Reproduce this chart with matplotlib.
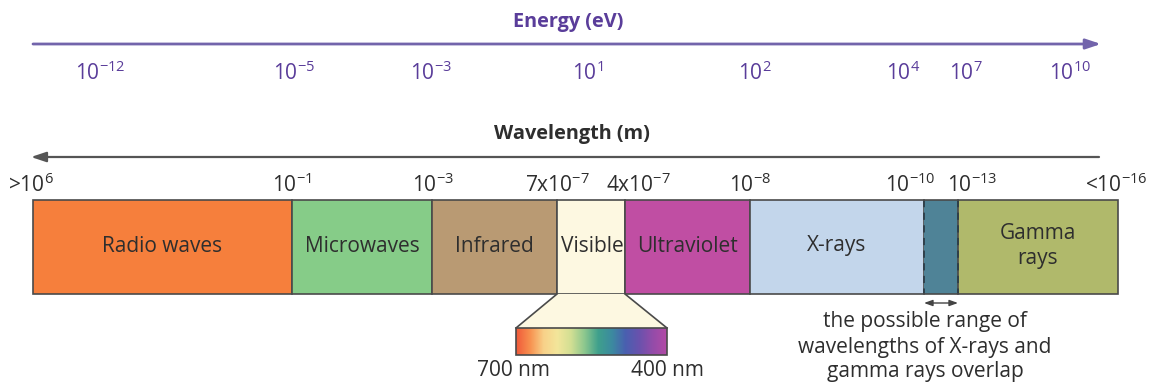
import matplotlib
matplotlib.use("Agg")
import matplotlib.pyplot as plt
import numpy as np
from matplotlib.colors import LinearSegmentedColormap
from matplotlib.patches import Polygon, Rectangle

FONT = "Open Sans"
plt.rcParams['font.family'] = [FONT, 'DejaVu Sans']
plt.rcParams['mathtext.fontset'] = 'custom'
plt.rcParams['mathtext.rm'] = FONT
plt.rcParams['mathtext.it'] = FONT
plt.rcParams['mathtext.default'] = 'regular'

# ---------------- data ----------------
# bands along the schematic wavelength strip (diagram units)
band_names = ["Radio waves", "Microwaves", "Infrared", "Visible", "Ultraviolet",
              "X-rays", "", "Gamma\nrays"]
band_edges = [33, 292, 432, 557, 625, 750, 924, 958, 1118]
band_colors = ["#f67f3c", "#86cc88", "#b99a73", "#fdf8e1", "#c04ea3",
               "#c3d6eb", "#4f8397", "#b0b96b"]

wavelength_labels = [">10$^{6}$", "10$^{-1}$", "10$^{-3}$", "7x10$^{-7}$",
                     "4x10$^{-7}$", "10$^{-8}$", "10$^{-10}$", "10$^{-13}$",
                     "<10$^{-16}$"]
wavelength_label_pos = [31, 292, 433, 557, 638, 750, 910, 972, 1116]

energy_labels = ["10$^{-12}$", "10$^{-5}$", "10$^{-3}$", "10$^{1}$", "10$^{2}$",
                 "10$^{4}$", "10$^{7}$", "10$^{10}$"]
energy_label_pos = [100, 294, 431, 588, 755, 903, 966, 1070]

spectrum_colors = ["#f05a3a", "#f7904f", "#f8d189", "#f3e69b", "#d2df93",
                   "#8cc78e", "#3fa08c", "#3c8aa0", "#4a5fb0", "#6a52ad",
                   "#944ca9", "#b34aa6"]
spectrum_labels = ["700 nm", "400 nm"]

# ---------------- figure ----------------
W, H = 1151, 385
fig = plt.figure(figsize=(W / 100, H / 100), dpi=100)
ax = fig.add_axes([0, 0, 1, 1])
ax.set_xlim(0, W)
ax.set_ylim(H, 0)
ax.axis("off")

purple = "#5a3d9a"
dark = "#2e2e2e"
edge = "#4a4a4a"
fs = 15
fsb = 14.3

# Energy axis
ax.text(568, 22, "Energy (eV)", ha="center", va="center", fontsize=fsb,
        fontweight="bold", color=purple)
ax.annotate("", xy=(1101, 44), xytext=(33, 44),
            arrowprops=dict(arrowstyle="-|>,head_length=0.9,head_width=0.3",
                            lw=2, color="#7264ab", shrinkA=0, shrinkB=0))
for lab, x in zip(energy_labels, energy_label_pos):
    ax.text(x, 73, lab, ha="center", va="center", fontsize=fs, color=purple)

# Wavelength axis
ax.text(572, 134, "Wavelength (m)", ha="center", va="center", fontsize=fsb,
        fontweight="bold", color=dark)
ax.annotate("", xy=(31, 157), xytext=(1099, 157),
            arrowprops=dict(arrowstyle="-|>,head_length=0.9,head_width=0.3",
                            lw=1.6, color="#555555", shrinkA=0, shrinkB=0))
for lab, x in zip(wavelength_labels, wavelength_label_pos):
    ax.text(x, 185, lab, ha="center", va="center", fontsize=fs, color=dark)

# Bands
y0, y1 = 200, 294
lefts = np.array(band_edges[:-1])
widths = np.diff(band_edges)
bars = ax.bar(lefts, y1 - y0, width=widths, bottom=y0, align="edge",
              color=band_colors, edgecolor=edge, linewidth=1.2)
# overlap band: dashed sides
ov = 6
bars[ov].set_linewidth(0)
for xx in (band_edges[ov], band_edges[ov + 1]):
    ax.plot([xx, xx], [y0, y1], color="#2d3d48", lw=1.3, ls=(0, (4, 3)))
ax.plot([band_edges[ov], band_edges[ov + 1]], [y0, y0], color=edge, lw=1.2)
ax.plot([band_edges[ov], band_edges[ov + 1]], [y1, y1], color=edge, lw=1.2)

label_y = 246
for name, l, w in zip(band_names, lefts, widths):
    if not name:
        continue
    ax.text(l + w / 2 + (1 if name == "Visible" else 0), label_y, name,
            ha="center", va="center", fontsize=fs, color=dark,
            linespacing=1.3)

# Visible expansion
vis_l, vis_r = band_edges[3], band_edges[4]
sp_l, sp_r, sp_t, sp_b = 516, 667, 328, 355
trap = Polygon([[vis_l, y1], [vis_r, y1], [sp_r, sp_t], [sp_l, sp_t]],
               closed=True, facecolor="#fdf8e1", edgecolor="none", zorder=1)
ax.add_patch(trap)
ax.plot([vis_l, sp_l], [y1, sp_t], color=edge, lw=1.2)
ax.plot([vis_r, sp_r], [y1, sp_t], color=edge, lw=1.2)

cmap = LinearSegmentedColormap.from_list("vis", spectrum_colors)
grad = np.linspace(0, 1, 256)[None, :]
ax.imshow(grad, cmap=cmap, aspect="auto", extent=(sp_l, sp_r, sp_b, sp_t),
          zorder=2)
ax.add_patch(Rectangle((sp_l, sp_t), sp_r - sp_l, sp_b - sp_t, fill=False,
                       edgecolor=edge, lw=1.2, zorder=3))
ax.text(513, 371, spectrum_labels[0], ha="center", va="center", fontsize=fs,
        color=dark)
ax.text(667, 371, spectrum_labels[1], ha="center", va="center", fontsize=fs,
        color=dark)

# Overlap annotation
ax.annotate("", xy=(958, 303), xytext=(924, 303),
            arrowprops=dict(arrowstyle="<|-|>,head_length=0.5,head_width=0.18",
                            lw=1.0, color="#444444", shrinkA=0, shrinkB=0))
ax.text(925, 347, "the possible range of\nwavelengths of X-rays and\ngamma rays overlap",
        ha="center", va="center", fontsize=fs, color=dark, linespacing=1.25)

ax.set_xlim(0, W)
ax.set_ylim(H, 0)
fig.savefig("out.png", dpi=100)
